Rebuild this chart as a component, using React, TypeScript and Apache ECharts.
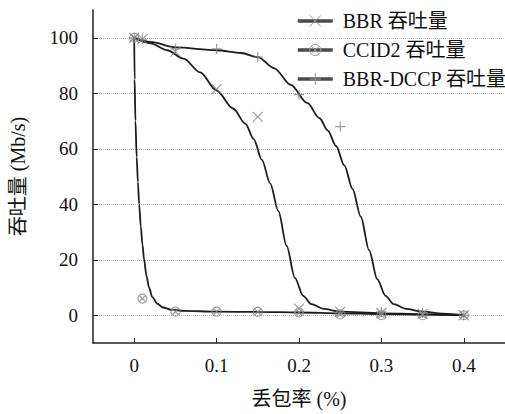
import React, { useEffect, useRef } from "react";
import * as echarts from "echarts";

// Measured points (x = 丢包率 %, y = 吞吐量 Mb/s)
const lossRates = [0, 0.01, 0.05, 0.1, 0.15, 0.2, 0.25, 0.3, 0.35, 0.4];
const bbrPoints = [100, 99.5, 95, 81.5, 71.5, 2.4, 1.2, 0.8, 0.5, 0];
const ccid2Points = [100, 6, 1.3, 1.3, 1.2, 1, 0.3, 0, 0, 0];
const dccpPoints = [100, 99.5, 96, 96, 93, 79.5, 68, 1.2, 0.8, 0];

// Fitted curves
const bbrFitX = [0, 0.02, 0.04, 0.06, 0.08, 0.1, 0.12, 0.135, 0.145, 0.155, 0.165, 0.175, 0.185, 0.195, 0.205, 0.215, 0.23, 0.25, 0.3, 0.35, 0.4];
const bbrFitY = [100, 98, 95.5, 92.5, 87.5, 81, 74.5, 69, 63.5, 56, 47.5, 37.5, 25, 13.5, 7, 4, 2.3, 1.3, 0.7, 0.4, 0];
const ccid2FitX = [0, 0.0005, 0.0015, 0.003, 0.0045, 0.006, 0.008, 0.01, 0.012, 0.015, 0.018, 0.022, 0.028, 0.035, 0.045, 0.06, 0.1, 0.15, 0.2, 0.25, 0.3, 0.35, 0.4];
const ccid2FitY = [100, 85, 70, 57, 48, 40, 32, 25.5, 20, 14, 10, 6.5, 4.2, 2.8, 2.0, 1.6, 1.3, 1.2, 1.0, 0.7, 0.4, 0.2, 0];
const dccpFitX = [0, 0.02, 0.05, 0.1, 0.13, 0.15, 0.17, 0.19, 0.21, 0.225, 0.235, 0.245, 0.255, 0.265, 0.275, 0.285, 0.295, 0.305, 0.315, 0.33, 0.35, 0.375, 0.4];
const dccpFitY = [100, 98.5, 96.5, 95.5, 94.5, 93, 89, 83, 76.5, 71, 66.5, 61, 54, 45.5, 35.5, 23.5, 13, 7, 4, 2.3, 1.3, 0.6, 0];

const seriesNames = ["BBR 吞吐量", "CCID2 吞吐量", "BBR-DCCP 吞吐量"];
const xAxisName = "丢包率 (%)";
const yAxisName = "吞吐量 (Mb/s)";

const FONT = "'Liberation Serif', 'Times New Roman', 'Noto Sans CJK SC', serif";
const SYM_X = "path://M0,0L10,10M10,0L0,10";
const SYM_PLUS = "path://M5,0L5,10M0,5L10,5";
const SYM_CC = "path://M10,5A5,5,0,1,1,0,5A5,5,0,1,1,10,5ZM1.6,1.6L8.4,8.4M8.4,1.6L1.6,8.4";

const zip = (xs: number[], ys: number[]) => xs.map((x, i) => [x, ys[i]]);

export default function App() {
  const ref = useRef<HTMLDivElement>(null);
  useEffect(() => {
    if (!ref.current) return;
    const chart = echarts.init(ref.current, undefined, { renderer: "svg" });
    const markerStyle = { color: "transparent", borderColor: "#858585", borderWidth: 1.2 };
    const lineSeries = (name: string, data: number[][], symbol: string) => ({
      name,
      type: "line",
      data,
      smooth: 0.3,
      smoothMonotone: "x",
      showSymbol: false,
      symbol,
      symbolSize: 9,
      itemStyle: markerStyle,
      lineStyle: { color: "#1c1c1c", width: 1.8 },
      z: 3,
    });
    const scatterSeries = (name: string, data: number[][], symbol: string, size: number) => ({
      name,
      type: "scatter",
      data,
      symbol,
      symbolSize: size,
      itemStyle: markerStyle,
      z: 4,
    });
    chart.setOption({
      animation: false,
      textStyle: { fontFamily: FONT },
      grid: { left: 92, right: 0, top: 10, bottom: 71, containLabel: false },
      legend: {
        orient: "vertical",
        left: 291,
        top: 6,
        itemWidth: 35,
        itemHeight: 14,
        itemGap: 9,
        data: seriesNames,
        textStyle: { fontFamily: FONT, fontSize: 20, color: "#111", padding: [0, 0, 0, 5] },
        lineStyle: { color: "#4a4a4a", width: 3.5 },
        itemStyle: { color: "transparent", borderColor: "#9a9a9a", borderWidth: 1 },
      },
      xAxis: {
        type: "value",
        min: -0.05,
        max: 0.45,
        name: xAxisName,
        nameLocation: "middle",
        nameGap: 46,
        nameTextStyle: { fontFamily: FONT, fontSize: 20, color: "#111" },
        axisLine: { show: true, onZero: false, lineStyle: { color: "#222", width: 1.5 } },
        axisTick: { show: true, inside: true, length: 5, lineStyle: { color: "#222" } },
        axisLabel: { showMinLabel: false, showMaxLabel: false, margin: 13, fontFamily: FONT, fontSize: 19, color: "#111" },
        splitLine: { show: false },
      },
      yAxis: {
        type: "value",
        min: -10,
        max: 110,
        name: yAxisName,
        nameLocation: "middle",
        nameGap: 65,
        nameTextStyle: { fontFamily: FONT, fontSize: 20, color: "#111" },
        axisLine: { show: true, onZero: false, lineStyle: { color: "#222", width: 1.5 } },
        axisTick: { show: true, inside: true, length: 5, lineStyle: { color: "#222" } },
        axisLabel: { showMinLabel: false, showMaxLabel: false, margin: 15, fontFamily: FONT, fontSize: 19, color: "#111" },
        splitLine: { show: true, showMinLine: false, showMaxLine: false, lineStyle: { type: "dotted", color: "#b5b5b5", width: 1 } },
      },
      series: [
        lineSeries(seriesNames[0], zip(bbrFitX, bbrFitY), SYM_X),
        lineSeries(seriesNames[1], zip(ccid2FitX, ccid2FitY), SYM_CC),
        lineSeries(seriesNames[2], zip(dccpFitX, dccpFitY), SYM_PLUS),
        scatterSeries("BBR 测量", zip(lossRates, bbrPoints), SYM_X, 10),
        scatterSeries("CCID2 测量", zip(lossRates, ccid2Points), SYM_CC, 9),
        scatterSeries("BBR-DCCP 测量", zip(lossRates, dccpPoints), SYM_PLUS, 10),
      ],
    });
    return () => chart.dispose();
  }, []);
  return <div ref={ref} style={{ width: 505, height: 414, position: "absolute", left: 0, top: 0 }} />;
}
